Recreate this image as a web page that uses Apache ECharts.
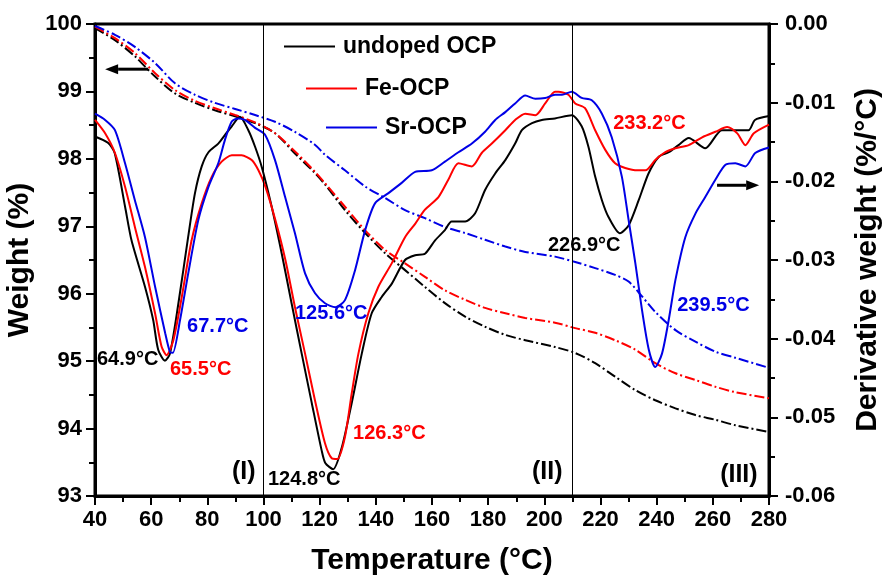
<!DOCTYPE html>
<html>
<head>
<meta charset="utf-8">
<script src="https://cdn.jsdelivr.net/npm/echarts@6/dist/echarts.min.js"></script>
<style>
html,body{margin:0;padding:0;background:#fff;}
#main{width:882px;height:577px;}
</style>
</head>
<body>
<div id="main"></div>
<script>
// ---- Data ----
var seriesNames = ['undoped OCP', 'Fe-OCP', 'Sr-OCP'];

// Derivative weight (%/°C), right axis
var undopedDTG = [[40,-0.0143],[44.6,-0.0151],[47,-0.0164],[50.7,-0.0232],[53,-0.0275],[57.8,-0.0334],[60.7,-0.0376],[62.5,-0.0414],[64.9,-0.0428],[66.7,-0.0419],[69.7,-0.0355],[73.2,-0.0270],[75.6,-0.0215],[78,-0.0181],[80.4,-0.0163],[83.9,-0.0152],[86.3,-0.0141],[88.7,-0.0130],[91.6,-0.0118],[94.6,-0.0135],[97,-0.0156],[99.4,-0.0182],[102.9,-0.0232],[106.5,-0.0292],[110,-0.0355],[113.6,-0.0419],[117.2,-0.0482],[120.7,-0.0542],[122,-0.0558],[124.8,-0.0566],[127.9,-0.0538],[131.4,-0.0482],[135,-0.0419],[138.5,-0.0368],[142.1,-0.0347],[145.7,-0.0330],[150.4,-0.0300],[154,-0.0294],[157.5,-0.0292],[161.1,-0.0275],[164.6,-0.0262],[167,-0.0251],[171.8,-0.0251],[175.3,-0.0241],[178.9,-0.0211],[182.5,-0.0190],[186.1,-0.0173],[189.6,-0.0152],[192,-0.0135],[195.6,-0.0126],[199.1,-0.0122],[203.8,-0.0120],[209.8,-0.0116],[213.3,-0.0130],[215.7,-0.0156],[218.1,-0.0194],[220.5,-0.0224],[222.8,-0.0245],[226.9,-0.0266],[230,-0.0256],[233.6,-0.0224],[237.1,-0.0190],[240.7,-0.0169],[244.3,-0.0163],[247.8,-0.0154],[251.4,-0.0145],[257.3,-0.0158],[263.2,-0.0135],[268,-0.0135],[272.7,-0.0135],[275,-0.0122],[280,-0.0117]];
var feDTG = [[40,-0.0122],[43.6,-0.0139],[47.1,-0.0164],[50.7,-0.0207],[54.2,-0.0258],[57.8,-0.0309],[61.4,-0.0368],[63.7,-0.0410],[65.5,-0.0421],[67.9,-0.0402],[70.9,-0.0347],[74.4,-0.0275],[78,-0.0228],[81.6,-0.0194],[85.1,-0.0175],[88.7,-0.0167],[92.2,-0.0167],[95.8,-0.0173],[98.2,-0.0186],[100.7,-0.0207],[104.2,-0.0249],[107.8,-0.0300],[111.2,-0.0360],[114.8,-0.0419],[118.3,-0.0478],[121.9,-0.0533],[124.3,-0.0552],[126.3,-0.0553],[129,-0.0525],[131.4,-0.0470],[133.8,-0.0419],[137.3,-0.0368],[140.9,-0.0334],[145.7,-0.0304],[150.4,-0.0271],[154,-0.0254],[157.5,-0.0236],[162.3,-0.0220],[165.8,-0.0198],[169.4,-0.0177],[174.2,-0.0181],[177.7,-0.0164],[181.3,-0.0152],[186.1,-0.0135],[189.6,-0.0122],[193.2,-0.0114],[196.8,-0.0116],[200.3,-0.0101],[203.8,-0.0086],[205,-0.0086],[208.6,-0.0090],[211,-0.0101],[214.5,-0.0107],[218.1,-0.0135],[221.7,-0.0160],[225.2,-0.0177],[228.8,-0.0183],[233.2,-0.0186],[236,-0.0186],[239.5,-0.0173],[243.1,-0.0163],[246.7,-0.0158],[251.4,-0.0154],[256.2,-0.0144],[260.9,-0.0137],[265.1,-0.0131],[268.7,-0.0139],[271.6,-0.0154],[274.6,-0.0139],[280,-0.0128]];
var srDTG = [[40,-0.0114],[43.6,-0.0122],[47.1,-0.0135],[50.7,-0.0177],[54.2,-0.0224],[57.8,-0.0271],[61.4,-0.0334],[65,-0.0393],[66.7,-0.0417],[67.7,-0.0418],[70.3,-0.0376],[73.2,-0.0317],[76.8,-0.0249],[80.4,-0.0207],[83.9,-0.0177],[86.3,-0.0147],[88.7,-0.0124],[91,-0.0120],[93.4,-0.0122],[97,-0.0132],[100.6,-0.0141],[104.1,-0.0173],[107.7,-0.0220],[111.2,-0.0266],[114.8,-0.0317],[118.3,-0.0342],[121.9,-0.0355],[125.6,-0.0360],[129,-0.0351],[132.6,-0.0313],[136.2,-0.0262],[139.7,-0.0228],[144.5,-0.0215],[149.2,-0.0202],[154,-0.0188],[159.9,-0.0186],[164.6,-0.0175],[169.4,-0.0163],[174.2,-0.0152],[178.9,-0.0137],[182.5,-0.0122],[186.1,-0.0112],[189.6,-0.0101],[193.2,-0.0091],[196.8,-0.0095],[200.3,-0.0094],[203.8,-0.0090],[206.3,-0.0090],[209.8,-0.0086],[213.3,-0.0094],[216.9,-0.0097],[220.5,-0.0114],[224,-0.0144],[227.6,-0.0194],[230,-0.0249],[232.4,-0.0304],[234.8,-0.0364],[237.2,-0.0414],[239.5,-0.0436],[241.9,-0.0419],[244.3,-0.0376],[246.7,-0.0325],[250.2,-0.0271],[253.8,-0.0241],[257.3,-0.0220],[260.9,-0.0198],[264.5,-0.0179],[268,-0.0177],[271.6,-0.0181],[275.1,-0.0164],[280,-0.0157]];

// Weight (%), left axis
var undopedTG = [[40,99.94],[47.1,99.76],[54.2,99.52],[61.4,99.22],[68.5,98.97],[75.6,98.83],[82.7,98.72],[89.9,98.63],[97,98.53],[104.1,98.38],[111.2,98.08],[118.3,97.79],[121.9,97.62],[129,97.24],[136.2,96.90],[143.3,96.60],[150.4,96.35],[157.5,96.10],[164.6,95.86],[171.8,95.66],[178.9,95.51],[186.1,95.39],[193.2,95.31],[203.8,95.21],[211,95.12],[218.1,94.97],[225.2,94.77],[232.4,94.57],[239.5,94.42],[246.7,94.30],[253.8,94.20],[260.9,94.13],[268,94.05],[280,93.95]];
var feTG = [[40,99.96],[47.1,99.79],[54.2,99.57],[61.4,99.27],[68.5,99.02],[75.6,98.86],[82.7,98.75],[89.9,98.65],[97,98.54],[104.1,98.38],[111.2,98.11],[118.3,97.81],[121.9,97.64],[129,97.29],[136.2,96.94],[143.3,96.65],[150.4,96.45],[157.5,96.25],[164.6,96.05],[171.8,95.91],[178.9,95.79],[186.1,95.71],[193.2,95.64],[203.8,95.57],[211,95.49],[218.1,95.42],[225.2,95.31],[232.4,95.17],[239.5,94.97],[246.7,94.82],[253.8,94.72],[260.9,94.62],[268,94.54],[280,94.45]];
var srTG = [[40,99.97],[47.1,99.84],[54.2,99.66],[61.4,99.42],[68.5,99.12],[75.6,98.95],[82.7,98.83],[89.9,98.74],[97,98.65],[104.1,98.55],[111.2,98.40],[118.3,98.21],[121.9,98.06],[129,97.83],[136.2,97.59],[143.3,97.42],[150.4,97.24],[157.5,97.12],[164.6,96.99],[171.8,96.90],[178.9,96.80],[186.1,96.70],[193.2,96.62],[203.8,96.55],[211,96.47],[218.1,96.38],[225.2,96.28],[230,96.18],[234.8,95.96],[239.5,95.73],[246.7,95.46],[253.8,95.29],[260.9,95.14],[268,95.05],[280,94.90]];

var regionLines = [100, 210];
var xTicks = {min: 40, max: 280, step: 20};
var yLeftTicks = {min: 93, max: 100, step: 1};
var yRightTicks = {min: -0.06, max: 0, step: 0.01};

// Annotations: [text, colourIndex, T, weight]
var annotations = [
  ['64.9°C', 0, 40.7, 94.99],
  ['65.5°C', 1, 66.7, 94.84],
  ['67.7°C', 2, 72.8, 95.49],
  ['125.6°C', 2, 111.2, 95.67],
  ['124.8°C', 0, 101.6, 93.22],
  ['126.3°C', 1, 131.9, 93.90],
  ['226.9°C', 0, 201.3, 96.69],
  ['233.2°C', 1, 224.5, 98.49],
  ['239.5°C', 2, 247.3, 95.79]
];
var regionLabels = [['(I)', 88.8, 93.31], ['(II)', 195.6, 93.31], ['(III)', 262.6, 93.28]];

// ---- Styles ----
var colors = ['#000000', '#ff0000', '#0000e6'];
var FONT = 'Liberation Sans, Arial, sans-serif';

var chart = echarts.init(document.getElementById('main'));

function axisCommon() {
  return {
    axisLine: {show: true, onZero: false, lineStyle: {color: '#000', width: 3}},
    axisTick: {show: true, inside: false, length: 9, lineStyle: {color: '#000', width: 2}},
    minorTick: {show: true, splitNumber: 2, length: 6, lineStyle: {color: '#000', width: 2}},
    splitLine: {show: false},
    minorSplitLine: {show: false},
    axisLabel: {color: '#000', fontSize: 22, fontWeight: 'bold', fontFamily: FONT}
  };
}

var xAxis = Object.assign(axisCommon(), {
  type: 'value', min: xTicks.min, max: xTicks.max, interval: xTicks.step,
  name: 'Temperature (°C)', nameLocation: 'middle', nameGap: 50,
  nameTextStyle: {color: '#000', fontSize: 30, fontWeight: 'bold', fontFamily: FONT}
});
xAxis.axisLabel.margin = 13;

var yLeft = Object.assign(axisCommon(), {
  type: 'value', min: yLeftTicks.min, max: yLeftTicks.max, interval: yLeftTicks.step, position: 'left',
  name: 'Weight (%)', nameLocation: 'middle', nameRotate: 90, nameGap: 54,
  nameTextStyle: {color: '#000', fontSize: 30, fontWeight: 'bold', fontFamily: FONT}
});
yLeft.axisLabel.margin = 13;

var yRight = Object.assign(axisCommon(), {
  type: 'value', min: yRightTicks.min, max: yRightTicks.max, interval: yRightTicks.step, position: 'right',
  name: 'Derivative weight (%/°C)', nameLocation: 'middle', nameRotate: 90, nameGap: 84,
  nameTextStyle: {color: '#000', fontSize: 30, fontWeight: 'bold', fontFamily: FONT}
});
yRight.axisLabel.margin = 16;
yRight.axisLabel.formatter = function (v) { return (Math.abs(v) < 1e-9 ? 0 : v).toFixed(2); };

var dtgData = [undopedDTG, feDTG, srDTG];
var tgData = [undopedTG, feTG, srTG];

var series = [];
for (var i = 0; i < 3; i++) {
  series.push({
    name: seriesNames[i] + ' TG', type: 'line', xAxisIndex: 0, yAxisIndex: 0,
    data: tgData[i], symbol: 'none', smooth: 0.3, silent: true,
    lineStyle: {color: colors[i], width: 2, type: [10, 3, 2, 3]},
    itemStyle: {color: colors[i]}, z: 2
  });
}
for (var j = 0; j < 3; j++) {
  series.push({
    name: seriesNames[j], type: 'line', xAxisIndex: 0, yAxisIndex: 1,
    data: dtgData[j], symbol: 'none', smooth: 0.25, silent: true,
    lineStyle: {color: colors[j], width: 2},
    itemStyle: {color: colors[j]}, z: 3
  });
}
series[0].markLine = {
  silent: true, symbol: 'none', label: {show: false},
  lineStyle: {color: '#000', width: 1, type: 'solid'},
  data: regionLines.map(function (v) { return {xAxis: v}; })
};

function legendAt(idx, left, top) {
  return {
    data: [seriesNames[idx]], left: left, top: top, padding: 0,
    icon: 'rect', itemWidth: 51, itemHeight: 2, itemGap: 0, selectedMode: false,
    textStyle: {color: '#000', fontSize: 23, fontWeight: 'bold', fontFamily: FONT, padding: [0, 0, 0, 3]}
  };
}

chart.setOption({
  animation: false,
  backgroundColor: '#fff',
  grid: {left: 95, right: 113, top: 24, bottom: 81, show: true, borderColor: '#000', borderWidth: 3,
         backgroundColor: 'transparent', containLabel: false, outerBoundsMode: 'none'},
  legend: [legendAt(0, 284, 35), legendAt(1, 306, 77), legendAt(2, 326, 116)],
  xAxis: xAxis,
  yAxis: [yLeft, yRight],
  series: series
});

// annotations positioned from data coordinates
var graphics = [];
annotations.forEach(function (a) {
  var p = chart.convertToPixel({xAxisIndex: 0, yAxisIndex: 0}, [a[2], a[3]]);
  graphics.push({
    type: 'text', left: p[0], top: p[1] - 12, silent: true, z: 10,
    style: {text: a[0], fill: colors[a[1]], font: 'bold 20px ' + FONT}
  });
});
regionLabels.forEach(function (r) {
  var p = chart.convertToPixel({xAxisIndex: 0, yAxisIndex: 0}, [r[1], r[2]]);
  graphics.push({
    type: 'text', left: p[0], top: p[1] - 15, silent: true, z: 10,
    style: {text: r[0], fill: '#000', font: 'bold 25px ' + FONT}
  });
});
// arrows
function arrow(p0, p1, dir) {
  var hx = dir < 0 ? p0[0] : p1[0];
  var tail = dir < 0 ? p1[0] : p0[0];
  var y = p0[1];
  var body = dir < 0 ? hx + 13 : hx - 13;
  graphics.push({type: 'line', silent: true, z: 10, shape: {x1: tail, y1: y, x2: body, y2: y}, style: {stroke: '#000', lineWidth: 3}});
  graphics.push({type: 'polygon', silent: true, z: 10, shape: {points: [[hx, y], [body, y - 5], [body, y + 5]]}, style: {fill: '#000'}});
}
var la0 = chart.convertToPixel({xAxisIndex: 0, yAxisIndex: 0}, [43.6, 99.33]);
var la1 = chart.convertToPixel({xAxisIndex: 0, yAxisIndex: 0}, [58.9, 99.33]);
arrow(la0, la1, -1);
var ra0 = chart.convertToPixel({xAxisIndex: 0, yAxisIndex: 1}, [261.5, -0.0205]);
var ra1 = chart.convertToPixel({xAxisIndex: 0, yAxisIndex: 1}, [276.5, -0.0205]);
arrow(ra0, ra1, 1);

chart.setOption({graphic: graphics});
</script>
</body>
</html>
